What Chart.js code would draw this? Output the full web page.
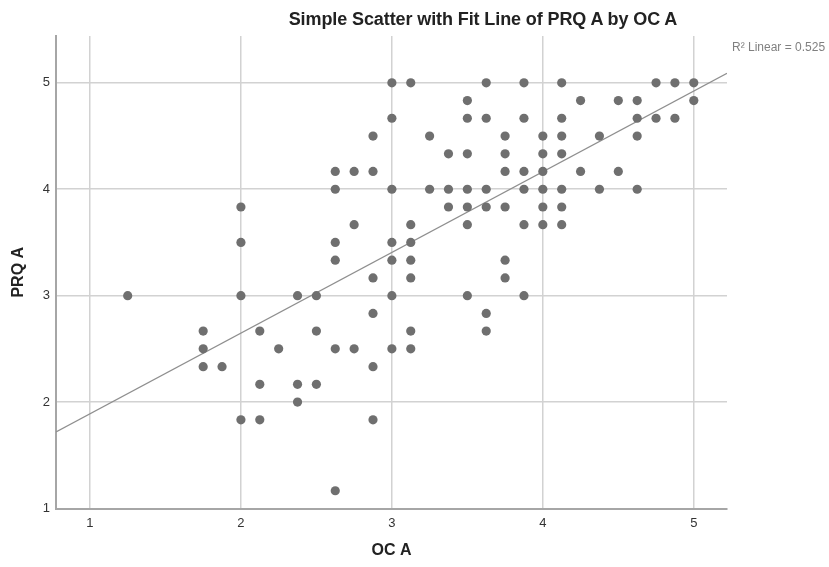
<!DOCTYPE html>
<html>
<head>
<meta charset="utf-8">
<script src="https://cdn.jsdelivr.net/npm/chart.js@4.4.0/dist/chart.umd.min.js"></script>
<style>
  html, body { margin: 0; padding: 0; background: #ffffff; }
  #wrap { position: relative; width: 829px; height: 567px; overflow: hidden; }
  #chartTitle { position: absolute; left: 233px; top: 9px; width: 500px; text-align: center;
    font: bold 18px "Liberation Sans", Arial, sans-serif; color: #222; white-space: nowrap; letter-spacing: -0.1px; }
  #r2 { position: absolute; left: 732px; top: 40px; font: 12px "Liberation Sans", Arial, sans-serif;
    color: #808080; white-space: nowrap; }
</style>
</head>
<body>
<div id="wrap">
  <canvas id="c" width="829" height="567"></canvas>
  <div id="chartTitle">Simple Scatter with Fit Line of PRQ A by OC A</div>
  <div id="r2">R² Linear = 0.525</div>
</div>
<script>
// OC A (x) values, grouped by column
const ocA = [
  1.25,
  1.75, 1.75, 1.75,
  1.875,
  2, 2, 2, 2,
  2.125, 2.125, 2.125,
  2.25,
  2.375, 2.375, 2.375,
  2.5, 2.5, 2.5,
  2.625, 2.625, 2.625, 2.625, 2.625, 2.625,
  2.75, 2.75, 2.75,
  2.875, 2.875, 2.875, 2.875, 2.875, 2.875,
  3, 3, 3, 3, 3, 3, 3,
  3.125, 3.125, 3.125, 3.125, 3.125, 3.125, 3.125,
  3.25, 3.25,
  3.375, 3.375, 3.375,
  3.5, 3.5, 3.5, 3.5, 3.5, 3.5, 3.5,
  3.625, 3.625, 3.625, 3.625, 3.625, 3.625,
  3.75, 3.75, 3.75, 3.75, 3.75, 3.75,
  3.875, 3.875, 3.875, 3.875, 3.875, 3.875,
  4, 4, 4, 4, 4, 4,
  4.125, 4.125, 4.125, 4.125, 4.125, 4.125, 4.125,
  4.25, 4.25,
  4.375, 4.375,
  4.5, 4.5,
  4.625, 4.625, 4.625, 4.625,
  4.75, 4.75,
  4.875, 4.875,
  5, 5
];
// PRQ A (y) values, same order
const prqA = [
  3,
  2.667, 2.5, 2.333,
  2.333,
  3.833, 3.5, 3, 1.833,
  2.667, 2.167, 1.833,
  2.5,
  3, 2.167, 2,
  3, 2.667, 2.167,
  4.167, 4, 3.5, 3.333, 2.5, 1.167,
  4.167, 3.667, 2.5,
  4.5, 4.167, 3.167, 2.833, 2.333, 1.833,
  5, 4.667, 4, 3.5, 3.333, 3, 2.5,
  5, 3.667, 3.5, 3.333, 3.167, 2.667, 2.5,
  4.5, 4,
  4.333, 4, 3.833,
  4.833, 4.667, 4.333, 4, 3.833, 3.667, 3,
  5, 4.667, 4, 3.833, 2.833, 2.667,
  4.5, 4.333, 4.167, 3.833, 3.333, 3.167,
  5, 4.667, 4.167, 4, 3.667, 3,
  4.5, 4.333, 4.167, 4, 3.833, 3.667,
  5, 4.667, 4.5, 4.333, 4, 3.833, 3.667,
  4.833, 4.167,
  4.5, 4,
  4.833, 4.167,
  4.833, 4.667, 4.5, 4,
  5, 4.667,
  5, 4.667,
  5, 4.833
];
// Fit line end points
const fitX = [0.775, 5.22];
const fitY = [1.72, 5.09];
// Tick labels
const xTicks = [1, 2, 3, 4, 5];
const yTicks = [1, 2, 3, 4, 5];

const points = ocA.map((x, i) => ({ x: x, y: prqA[i] }));
const fitPts = fitX.map((x, i) => ({ x: x, y: fitY[i] }));

const FONT = '"Liberation Sans", Arial, sans-serif';
const gridColor = '#d2d2d2';
const axisColor = '#a6a6a6';

new Chart(document.getElementById('c'), {
  type: 'scatter',
  data: {
    datasets: [
      {
        type: 'line',
        data: fitPts,
        borderColor: '#8f8f8f',
        borderWidth: 1.3,
        pointRadius: 0,
        fill: false,
        tension: 0,
        order: 2
      },
      {
        data: points,
        backgroundColor: '#6f6f6f',
        borderWidth: 0,
        pointRadius: 4.6,
        pointHoverRadius: 4.6,
        order: 1
      }
    ]
  },
  options: {
    responsive: false,
    animation: false,
    events: [],
    layout: { padding: { left: 0, right: 102, top: 36, bottom: 0 } },
    plugins: { legend: { display: false }, tooltip: { enabled: false }, title: { display: false } },
    scales: {
      x: {
        type: 'linear',
        min: 0.775,
        max: 5.22,
        afterBuildTicks: s => { s.ticks = xTicks.map(v => ({ value: v })); },
        afterFit: s => { s.height = 58.5; },
        grid: { color: gridColor, lineWidth: 1.5, drawTicks: false },
        border: { display: true, color: axisColor, width: 2 },
        ticks: { padding: 7, color: '#333', font: { family: FONT, size: 13 }, callback: v => String(v) },
        title: { display: true, text: 'OC A', color: '#222', font: { family: FONT, size: 16, weight: 'bold' },
                 padding: { top: 0, bottom: 7 } }
      },
      y: {
        type: 'linear',
        min: 1,
        max: 5.44,
        afterBuildTicks: s => { s.ticks = yTicks.map(v => ({ value: v })); },
        afterFit: s => { s.width = 56; },
        grid: { color: gridColor, lineWidth: 1.5, drawTicks: false },
        border: { display: true, color: axisColor, width: 2 },
        ticks: { padding: 6, color: '#333', font: { family: FONT, size: 13 }, callback: v => String(v) },
        title: { display: true, text: 'PRQ A', color: '#222', font: { family: FONT, size: 16, weight: 'bold' },
                 padding: { top: 9, bottom: 0 } }
      }
    }
  }
});
</script>
</body>
</html>
